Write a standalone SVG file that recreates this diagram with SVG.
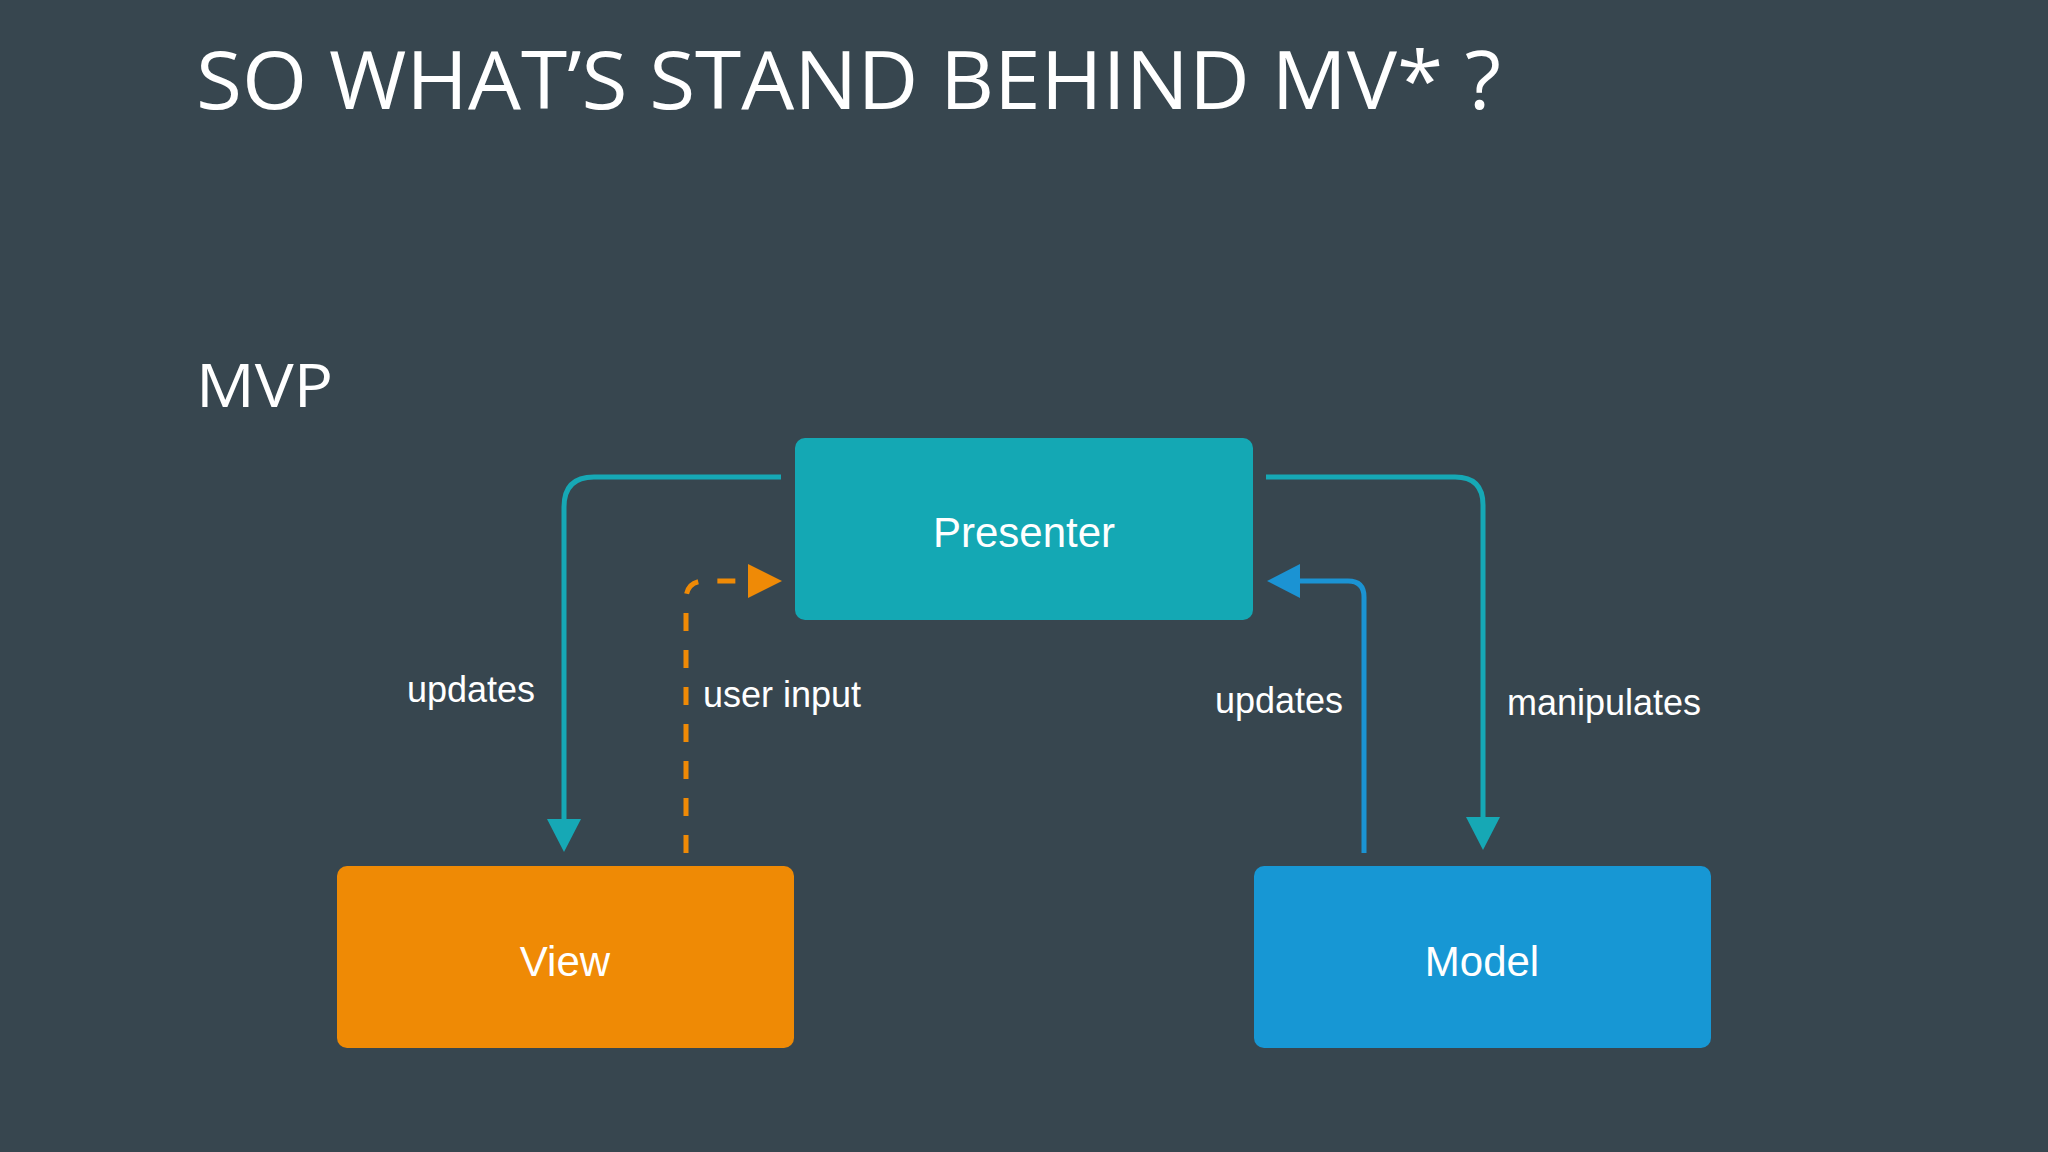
<svg xmlns="http://www.w3.org/2000/svg" width="2048" height="1152" viewBox="0 0 2048 1152">
  <style>
    .title { font-family: "Open Sans", "Lato", "Liberation Sans", sans-serif; font-weight: 400; fill: #ffffff; }
    .node-label { font-family: "Liberation Sans", Arial, sans-serif; font-size: 42px; fill: #ffffff; text-anchor: middle; }
    .edge-label { font-family: "Liberation Sans", Arial, sans-serif; font-size: 36px; fill: #ffffff; }
    .conn { fill: none; stroke-width: 5; }
    .teal { stroke: #16a8b5; }
    .blue { stroke: #1b93d3; }
    .orange { stroke: #ef8a06; stroke-dasharray: 18 19; }
  </style>
  <defs>
    <marker id="arrow-teal" markerUnits="userSpaceOnUse" markerWidth="33" markerHeight="34" refX="0" refY="17" orient="auto">
      <path d="M0,0 L33,17 L0,34 z" fill="#16a8b5"/>
    </marker>
    <marker id="arrow-blue" markerUnits="userSpaceOnUse" markerWidth="33" markerHeight="34" refX="0" refY="17" orient="auto">
      <path d="M0,0 L33,17 L0,34 z" fill="#1b93d3"/>
    </marker>
    <marker id="arrow-orange" markerUnits="userSpaceOnUse" markerWidth="34" markerHeight="34" refX="0" refY="17" orient="auto">
      <path d="M0,0 L34,17 L0,34 z" fill="#ef8a06"/>
    </marker>
  </defs>

  <rect x="0" y="0" width="2048" height="1152" fill="#37464f"/>

  <text class="title" x="196" y="109" font-size="80" textLength="1305" lengthAdjust="spacingAndGlyphs">SO WHAT’S STAND BEHIND MV* ?</text>
  <text class="title" x="196" y="407" font-size="61" textLength="137" lengthAdjust="spacingAndGlyphs">MVP</text>

  <g id="connectors">
    <path id="edge-presenter-view" class="conn teal" d="M781 477 H594 Q564 477 564 507 V819" marker-end="url(#arrow-teal)"/>
    <path id="edge-view-presenter" class="conn orange" d="M686 853 V600 Q686 581 705 581 H748" marker-end="url(#arrow-orange)"/>
    <path id="edge-presenter-model" class="conn teal" d="M1266 477 H1455 Q1483 477 1483 505 V817" marker-end="url(#arrow-teal)"/>
    <path id="edge-model-presenter" class="conn blue" d="M1364 853 V597 Q1364 581 1348 581 H1300" marker-end="url(#arrow-blue)"/>
    <text class="edge-label" x="407" y="702">updates</text>
    <text class="edge-label" x="703" y="707">user input</text>
    <text class="edge-label" x="1215" y="713">updates</text>
    <text class="edge-label" x="1507" y="715">manipulates</text>
  </g>

  <g id="node-presenter">
    <rect x="795" y="438" width="458" height="182" rx="10" fill="#14a8b4"/>
    <text class="node-label" x="1024" y="547">Presenter</text>
  </g>
  <g id="node-view">
    <rect x="337" y="866" width="457" height="182" rx="10" fill="#ef8a05"/>
    <text class="node-label" x="565" y="976">View</text>
  </g>
  <g id="node-model">
    <rect x="1254" y="866" width="457" height="182" rx="10" fill="#1797d4"/>
    <text class="node-label" x="1482" y="976">Model</text>
  </g>
</svg>
